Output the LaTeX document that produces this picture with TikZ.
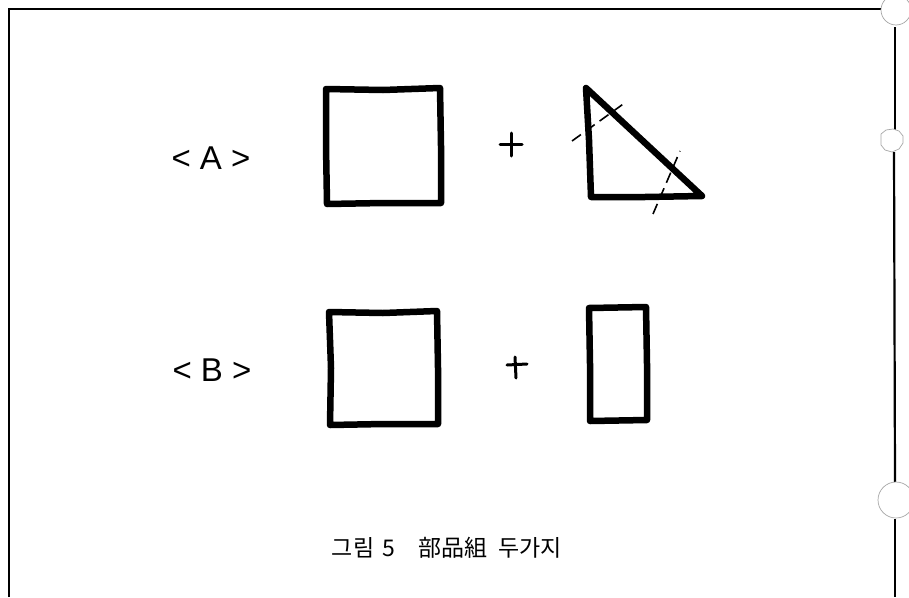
\documentclass[tikz,border=0pt]{standalone}
\usepackage{fontspec}
\setmainfont{Liberation Sans}
\newfontfamily\krfont{Noto Sans CJK KR}
\begin{document}
\begin{tikzpicture}[x=1pt,y=-1pt,
  piece/.style={line width=6.5pt, line join=round, line cap=round},
  frameline/.style={line width=2.2pt},
  hole/.style={draw=black!35, line width=0.7pt, fill=white},
  hatch/.style={line width=1.6pt, dash pattern=on 11pt off 6pt},
  plus/.style={line width=3pt, line cap=round},
  lbl/.style={font=\fontsize{33}{33}\selectfont, inner sep=0pt},
  captext/.style={font=\krfont\fontsize{23}{23}\selectfont, inner sep=0pt}]
\useasboundingbox (0,0) rectangle (909,597);
% frame
\draw[frameline] (9,597) -- (9,9) -- (882,9);
\draw[frameline] (895,27) -- (895,132);
\draw[frameline] (894,152) -- (895,482);
\draw[frameline] (895,519) -- (895,597);
% punch holes
\draw[hole] (896,10) circle (15);
\draw[hole] (881,134) -- (886,130) -- (893,129) -- (899,131) -- (903,136) -- (903,143) -- (899,149) -- (892,152) -- (885,150) -- (881,145) -- cycle;
\draw[hole] (896,500) circle (18);
% row A
\node[lbl] (la) at (211,158) {< A >};
\draw[piece] (326,89) -- (383,90) -- (440,88) -- (441,146) -- (441,203) -- (384,203) -- (327,204) -- (326,146) -- cycle;
\draw[plus] (500,144) -- (522,144);
\draw[plus] (511,133) -- (511,156);
\draw[piece] (586,88) -- (702,196) -- (645,197) -- (591,197) -- (589,140) -- cycle;
\draw[hatch] (572,141) -- (626,102);
\draw[hatch] (653,214) -- (680,151);
% row B
\node[lbl] (lb) at (212,370) {< B >};
\draw[piece] (329,312) -- (383,313) -- (437,311) -- (438,368) -- (438,424) -- (384,424) -- (330,425) -- (331,368) -- cycle;
\draw[plus] (507,365) -- (527,364);
\draw[plus] (515,357) -- (516,378);
\draw[piece] (589,308) -- (646,307) -- (647,364) -- (647,420) -- (590,421) -- (590,364) -- cycle;
% caption
\node[captext] (cap) at (447,548) {그림\hspace{0.35em}5\hspace{1.0em}部品組\hspace{0.5em}두가지};
\end{tikzpicture}
\end{document}
